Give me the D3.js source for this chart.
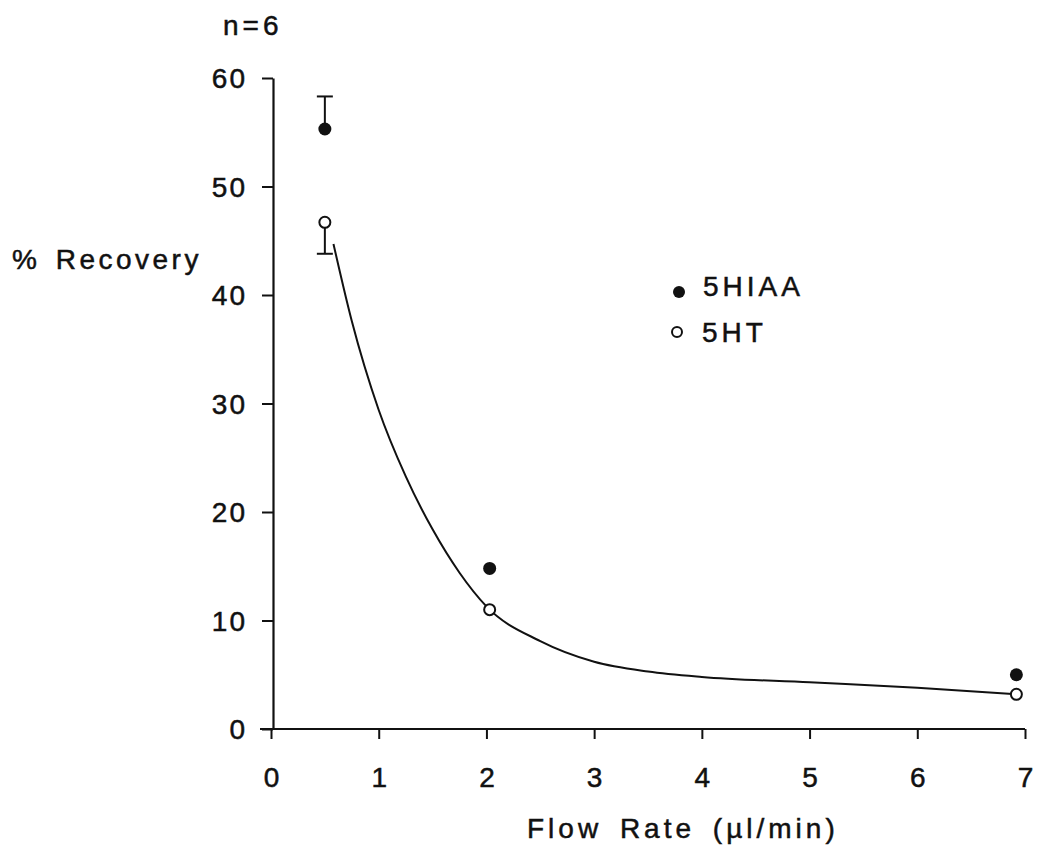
<!DOCTYPE html>
<html>
<head>
<meta charset="utf-8">
<script src="https://cdn.jsdelivr.net/npm/d3@7"></script>
<style>
  body { margin: 0; background: #fff; }
  text { font-family: "Liberation Sans", Arial, sans-serif; fill: #111; stroke: #111; stroke-width: 0.5; }
</style>
</head>
<body>
<script>
const w = 1045, h = 850;

// data
const flowRates = [0.5, 2.03, 6.92];
const hiaa = [55.3, 14.8, 5.0];          // 5HIAA, filled
const ht = [46.7, 11.0, 3.2];            // 5HT, open
const hiaaErrUp = [58.3, null, null];
const htErrDown = [43.8, null, null];
const fitX = [0.58, 0.75, 1.0, 1.25, 1.5, 1.75, 2.0, 2.5, 3.0, 3.5, 4.0, 5.0, 6.0, 6.92];
const fitY = [44.7, 37.6, 29.4, 23.3, 18.4, 14.4, 11.3, 8.1, 6.2, 5.3, 4.8, 4.3, 3.8, 3.2];
const xTicks = [0, 1, 2, 3, 4, 5, 6, 7];
const yTicks = [0, 10, 20, 30, 40, 50, 60];

const x = d3.scaleLinear().domain([0, 7]).range([271, 1025]);
const y = d3.scaleLinear().domain([0, 60]).range([729, 78]);

const svg = d3.select("body").append("svg").attr("width", w).attr("height", h);

// axes
const xAxis = svg.append("g").attr("transform", "translate(0,729)")
  .call(d3.axisBottom(x).tickValues(xTicks).tickFormat(d3.format("d"))
    .tickSize(10).tickPadding(28).tickSizeOuter(0));
const yAxis = svg.append("g").attr("transform", "translate(273,0)")
  .call(d3.axisLeft(y).tickValues(yTicks).tickFormat(d3.format("d"))
    .tickSize(11).tickPadding(15).tickSizeOuter(0));

[xAxis, yAxis].forEach(a => {
  a.select(".domain").attr("stroke", "#111").attr("stroke-width", 2.2);
  a.selectAll(".tick line").attr("stroke", "#111").attr("stroke-width", 2);
  a.selectAll(".tick text").attr("font-size", 28).attr("fill", "#111")
    .attr("stroke", "#111").attr("stroke-width", 0.5)
    .attr("letter-spacing", 2)
    .attr("font-family", "'Liberation Sans', Arial, sans-serif");
});
xAxis.select(".domain").attr("d", "M260,0H1025");
xAxis.selectAll(".tick text").attr("dx", 1);
yAxis.selectAll(".tick text").attr("dy", "0.35em");

// fitted curve
const fit = fitX.map((d, i) => [d, fitY[i]]);
svg.append("path")
  .datum(fit)
  .attr("fill", "none")
  .attr("stroke", "#111")
  .attr("stroke-width", 2)
  .attr("d", d3.line().x(d => x(d[0])).y(d => y(d[1])).curve(d3.curveMonotoneX));

// error bars
flowRates.forEach((f, i) => {
  if (hiaaErrUp[i] != null) {
    svg.append("line").attr("x1", x(f)).attr("x2", x(f))
      .attr("y1", y(hiaa[i])).attr("y2", y(hiaaErrUp[i]))
      .attr("stroke", "#111").attr("stroke-width", 2);
    svg.append("line").attr("x1", x(f) - 8).attr("x2", x(f) + 8)
      .attr("y1", y(hiaaErrUp[i])).attr("y2", y(hiaaErrUp[i]))
      .attr("stroke", "#111").attr("stroke-width", 2);
  }
  if (htErrDown[i] != null) {
    svg.append("line").attr("x1", x(f)).attr("x2", x(f))
      .attr("y1", y(ht[i])).attr("y2", y(htErrDown[i]))
      .attr("stroke", "#111").attr("stroke-width", 2);
    svg.append("line").attr("x1", x(f) - 8).attr("x2", x(f) + 8)
      .attr("y1", y(htErrDown[i])).attr("y2", y(htErrDown[i]))
      .attr("stroke", "#111").attr("stroke-width", 2);
  }
});

// points
svg.append("g").selectAll("circle")
  .data(flowRates)
  .enter().append("circle")
  .attr("cx", d => x(d))
  .attr("cy", (d, i) => y(hiaa[i]))
  .attr("r", 6.5)
  .attr("fill", "#111");

svg.append("g").selectAll("circle")
  .data(flowRates)
  .enter().append("circle")
  .attr("cx", d => x(d))
  .attr("cy", (d, i) => y(ht[i]))
  .attr("r", 5.5)
  .attr("fill", "#fff")
  .attr("stroke", "#111")
  .attr("stroke-width", 2);

// legend
svg.append("circle").attr("cx", 679).attr("cy", 292).attr("r", 6).attr("fill", "#111");
svg.append("text").attr("x", 703).attr("y", 296).attr("font-size", 28)
  .attr("letter-spacing", 4).text("5HIAA");
svg.append("circle").attr("cx", 677).attr("cy", 332).attr("r", 5).attr("fill", "#fff")
  .attr("stroke", "#111").attr("stroke-width", 2);
svg.append("text").attr("x", 702).attr("y", 342).attr("font-size", 28)
  .attr("letter-spacing", 4).text("5HT");

// labels
svg.append("text").attr("x", 223).attr("y", 35).attr("font-size", 28)
  .attr("letter-spacing", 4).text("n=6");
svg.append("text").attr("x", 12).attr("y", 269).attr("font-size", 28)
  .attr("letter-spacing", 3.5).attr("word-spacing", 4).text("% Recovery");
svg.append("text").attr("x", 527).attr("y", 838).attr("font-size", 28)
  .attr("letter-spacing", 4).attr("word-spacing", 6).text("Flow Rate (\u00b5l/min)");
</script>
</body>
</html>
